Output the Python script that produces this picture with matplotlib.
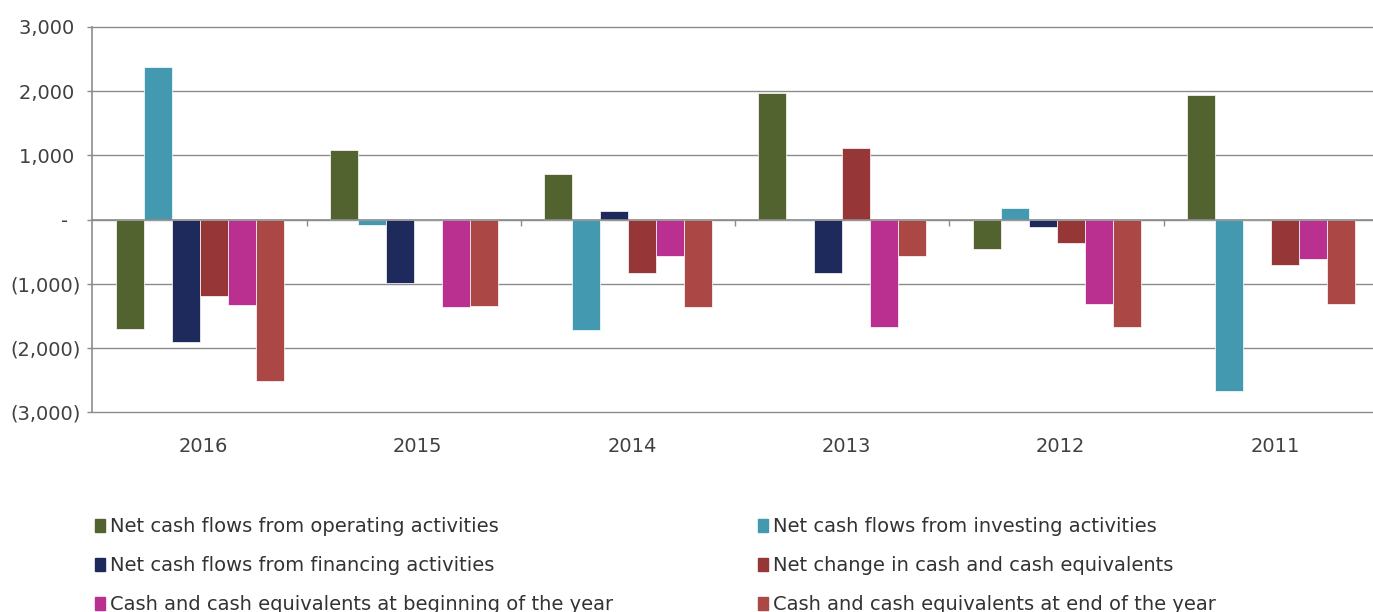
import matplotlib.pyplot as plt
import numpy as np
from matplotlib.patches import Rectangle
from matplotlib.transforms import ScaledTranslation

plt.rcParams['font.family'] = ['DejaVu Sans']

# Datos (en miles), años en orden descendente
anios = ['2016', '2015', '2014', '2013', '2012', '2011']
series = [
    'Net cash flows from operating activities',
    'Net cash flows from investing activities',
    'Net cash flows from financing activities',
    'Net change in cash and cash equivalents',
    'Cash and cash equivalents at beginning of the year',
    'Cash and cash equivalents at end of the year',
]
operativos = [-1700, 1085, 715, 1975, -460, 1945]
inversion = [2380, -85, -1720, -20, 185, -2680]
financiacion = [-1915, -995, 135, -840, -115, 0]
cambio_neto = [-1190, -10, -840, 1115, -365, -715]
saldo_inicial = [-1340, -1370, -565, -1670, -1320, -610]
saldo_final = [-2520, -1345, -1370, -565, -1670, -1320]
valores = [operativos, inversion, financiacion, cambio_neto, saldo_inicial, saldo_final]
colores = ['#536330', '#4399b0', '#1f2a5c', '#963636', '#ba3090', '#ab4846']

y_ticks = [-3000, -2000, -1000, 0, 1000, 2000, 3000]
y_labels = ['(3,000)', '(2,000)', '(1,000)', '-  ', '1,000 ', '2,000 ', '3,000 ']

W, H = 1373, 612
fig = plt.figure(figsize=(W / 100, H / 100), dpi=100)
ax = fig.add_axes([92.4 / W, 1 - 412 / H, (1378 - 92.4) / W, (412 - 27) / H])

x = np.arange(len(anios))
ancho = 0.1307
for k, (vals, col) in enumerate(zip(valores, colores)):
    ax.bar(x + (k - 2.5) * ancho, vals, width=ancho, color=col,
           edgecolor='white', linewidth=0.5, zorder=3)

ax.set_xlim(-0.5, len(anios) - 0.5)
ax.set_ylim(-3000, 3000)
ax.set_yticks(y_ticks)
ax.set_yticklabels(y_labels)
ax.yaxis.grid(True, color='#8c8c8c', linewidth=1.0, zorder=0)
for g in ax.get_ygridlines():
    g.set_clip_on(False)

# eje horizontal en cero, con marcas entre categorías
for s in ['top', 'right']:
    ax.spines[s].set_visible(False)
ax.spines['bottom'].set_position(('data', 0))
ax.spines['bottom'].set_color('#8c8c8c')
ax.spines['bottom'].set_linewidth(1.2)
ax.spines['bottom'].set_zorder(4)
ax.spines['left'].set_color('#8c8c8c')
ax.spines['left'].set_linewidth(1.2)

ax.set_xticks(x)
ax.set_xticklabels(anios)
ax.set_xticks(x[:-1] + 0.5, minor=True)
ax.tick_params(axis='x', which='major', length=0, pad=156.5, labelsize=14, labelcolor='#404040')
ax.tick_params(axis='x', which='minor', length=4.5, width=1, color='#8c8c8c', direction='out')
ax.tick_params(axis='y', length=3.6, width=1, color='#8c8c8c', pad=5, labelsize=14, labelcolor='#404040')
desplaza = ScaledTranslation(4 / 100, 0, fig.dpi_scale_trans)
for lbl in ax.get_xticklabels():
    lbl.set_transform(lbl.get_transform() + desplaza)

# leyenda en dos columnas, filas en orden de lectura
manijas = [Rectangle((0, 0), 1, 1, color=c) for c in colores]
for col, x0 in enumerate([95, 758]):
    idx = [col, col + 2, col + 4]
    leg = fig.legend([manijas[i] for i in idx], [series[i] for i in idx],
                     loc='upper left', bbox_to_anchor=(x0 / W, 1 - 517 / H),
                     frameon=False, fontsize=14, handlelength=0.5, handleheight=0.65,
                     handletextpad=0.25, labelspacing=1.03, borderpad=0, borderaxespad=0)
    for t in leg.get_texts():
        t.set_color('#333333')

fig.savefig('out.png', dpi=100)
